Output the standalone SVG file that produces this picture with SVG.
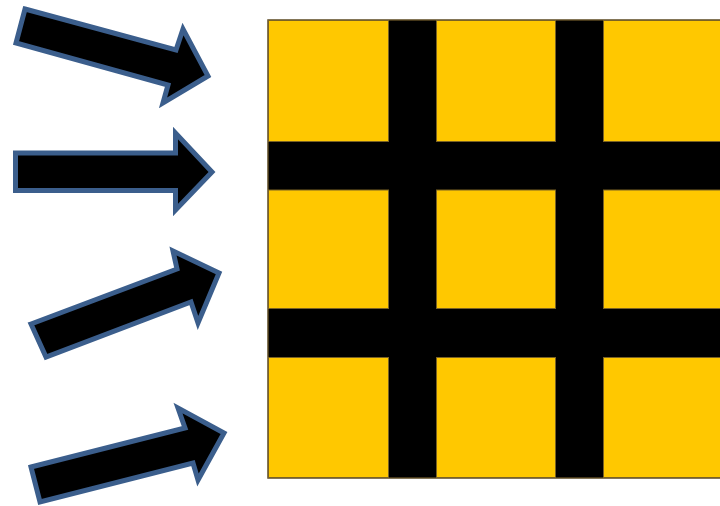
<svg xmlns="http://www.w3.org/2000/svg" width="720" height="506" viewBox="0 0 720 506">
<style>
.arrow{fill:#000;stroke:#3b5e8c;stroke-width:5;stroke-linejoin:miter}
.cell{fill:#ffc800;stroke:#7a6224;stroke-width:1}
</style>
<rect width="720" height="506" fill="#fff"/>
<g id="grid">
<rect x="268" y="20" width="460" height="458" fill="#000" stroke="#5c4a22" stroke-width="1.5"/>
<rect class="cell" x="268.5" y="20.5" width="120" height="121"/>
<rect class="cell" x="436.5" y="20.5" width="119" height="121"/>
<rect class="cell" x="603.5" y="20.5" width="120" height="121"/>
<rect class="cell" x="268.5" y="190" width="120" height="118.5"/>
<rect class="cell" x="436.5" y="190" width="119" height="118.5"/>
<rect class="cell" x="603.5" y="190" width="120" height="118.5"/>
<rect class="cell" x="268.5" y="357.5" width="120" height="120"/>
<rect class="cell" x="436.5" y="357.5" width="119" height="120"/>
<rect class="cell" x="603.5" y="357.5" width="120" height="120"/>
</g>
<g id="arrows">
<polygon id="arrow1" class="arrow" points="25,9 176,50 183,29 208,76 163,103 168,85 16,43"/>
<polygon id="arrow2" class="arrow" points="15.5,153 175.5,153 175.5,133 212,172 175.5,210 175.5,190.5 15.5,190.5"/>
<polygon id="arrow3" class="arrow" points="31,324 177,269 173,251 219,273 198,323 191,302 46,357"/>
<polygon id="arrow4" class="arrow" points="31,467 185,428 178,408 224,433 198,480 193,463 40,502"/>
</g>
</svg>
